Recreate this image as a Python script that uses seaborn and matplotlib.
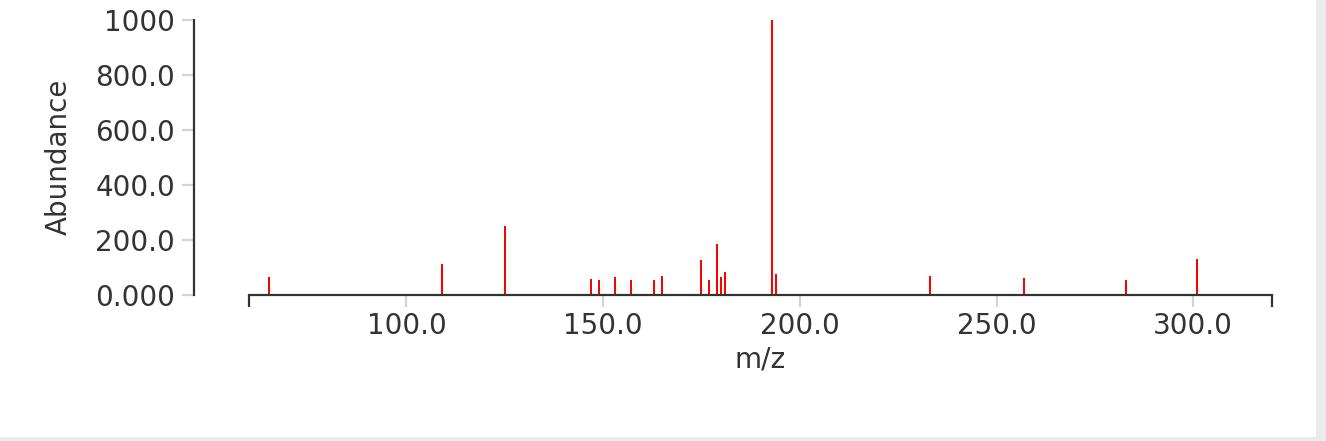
import matplotlib
matplotlib.use("Agg")
import matplotlib.pyplot as plt
from matplotlib.patches import Rectangle
import pandas as pd
import seaborn as sns

# peak list
mz = [65, 109, 125, 147, 149, 153, 157, 163, 165, 175, 177, 179, 180, 181,
      193, 194, 233, 257, 283, 301]
abundance = [62, 112, 250, 56, 52, 62, 53, 53, 68, 126, 53, 184, 63, 82,
             1000, 75, 66, 61, 53, 129]

x_ticks = [100, 150, 200, 250, 300]
x_labels = ["100.0", "150.0", "200.0", "250.0", "300.0"]
y_ticks = [0, 200, 400, 600, 800, 1000]
y_labels = ["0.000", "200.0", "400.0", "600.0", "800.0", "1000"]

sns.set_style("white")
plt.rcParams['font.family'] = ['DejaVu Sans']

W, H = 1326, 441
fig = plt.figure(figsize=(W / 100, H / 100), dpi=100, facecolor="#ebebeb")
fig.patches.append(Rectangle((0, 4 / H), 1316 / W, 1 - 4 / H,
                             transform=fig.transFigure, facecolor="white",
                             edgecolor="none", zorder=-10))

ax = fig.add_axes([249 / W, (H - 294.5) / H, 1023 / W, 274.5 / H])
ax.patch.set_visible(False)

df = pd.DataFrame({"mz": mz, "abundance": abundance})
sns.histplot(data=df, x="mz", weights="abundance", discrete=True, shrink=0.5,
             color="#ff0000", alpha=1, edgecolor="none", linewidth=0, ax=ax)

ax.set_xlim(60, 320)
ax.set_ylim(0, 1000)

dark = "#333333"
px = 0.72  # points per pixel at dpi 100

for s in ["top", "right"]:
    ax.spines[s].set_visible(False)
for s in ["left", "bottom"]:
    ax.spines[s].set_color(dark)
    ax.spines[s].set_linewidth(2.2 * px)
ax.spines["left"].set_position(("outward", 55 * px))

ax.set_xticks(x_ticks)
ax.set_xticklabels(x_labels)
ax.set_yticks(y_ticks)
ax.set_yticklabels(y_labels)
ax.set_xticks([60, 320], minor=True)
ax.set_yticks([0, 1000], minor=True)

ax.tick_params(which="both", bottom=True, left=True, direction="out",
               length=12 * px, width=2.2 * px, labelsize=20, labelcolor=dark)
ax.tick_params(which="major", color="#d3d3d3")
ax.tick_params(which="minor", color=dark)
ax.tick_params(axis="x", pad=3.6)
ax.tick_params(axis="y", pad=5)

ax.set_xlabel("m/z", fontsize=20, color=dark)
ax.set_ylabel("Abundance", fontsize=20, color=dark)
ax.xaxis.set_label_coords(0.5, (294.5 - 346) / 274.5)
ax.yaxis.set_label_coords((73 - 249) / 1023, 0.5)

fig.savefig("out.png", dpi=100, facecolor=fig.get_facecolor())
